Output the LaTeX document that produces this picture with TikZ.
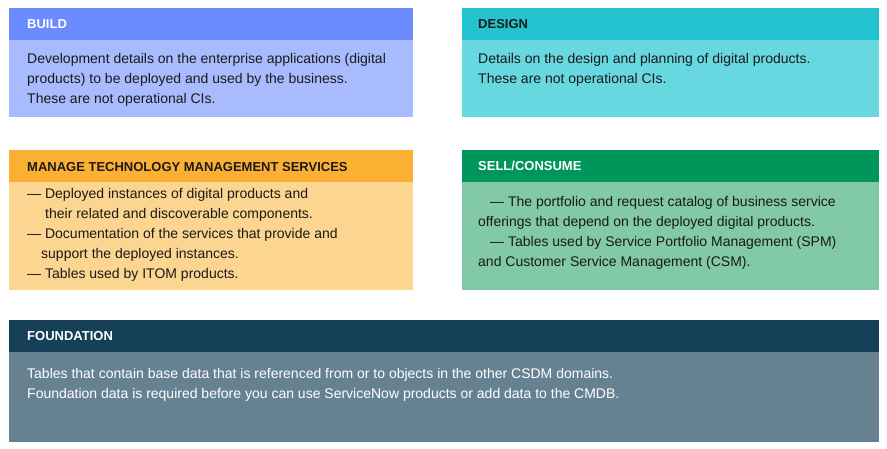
\documentclass[tikz,border=0pt]{standalone}
\usepackage{fontspec}
\setmainfont{Liberation Sans}
\usetikzlibrary{positioning}
\definecolor{buildhead}{HTML}{6B8BFF}
\definecolor{buildbody}{HTML}{A8BBFF}
\definecolor{designhead}{HTML}{23C4CF}
\definecolor{designbody}{HTML}{67D7E0}
\definecolor{managehead}{HTML}{FBB034}
\definecolor{managebody}{HTML}{FCD590}
\definecolor{sellhead}{HTML}{00955A}
\definecolor{sellbody}{HTML}{82C9A6}
\definecolor{foundhead}{HTML}{163F58}
\definecolor{foundbody}{HTML}{668290}
\definecolor{textdark}{HTML}{1A1A1A}
\tikzset{
  headtext/.style={anchor=west, font=\fontsize{13}{15}\selectfont\bfseries, inner sep=0pt},
  bodytext/.style={anchor=north west, align=left, inner sep=0pt,
    font=\fontsize{14}{20}\selectfont},
}
\begin{document}
\begin{tikzpicture}[x=1pt,y=-1pt]
    \useasboundingbox (0,0) rectangle (887,449);

    % build
    \fill[buildbody] (9,8) rectangle (413,117);
    \fill[buildhead] (9,8) rectangle (413,40);
    \node[headtext, text=white] (buildh) at (27,24) {BUILD};
    \node[bodytext, text=textdark] (buildb) at (27,53) {Development details on the enterprise applications (digital\\products) to be deployed and used by the business.\\These are not operational CIs.};

    % design
    \fill[designbody] (462,8) rectangle (879,117);
    \fill[designhead] (462,8) rectangle (879,40);
    \node[headtext, text=textdark] (designh) at (478,24) {DESIGN};
    \node[bodytext, text=textdark] (designb) at (478,53) {Details on the design and planning of digital products.\\These are not operational CIs.};

    % manage
    \fill[managebody] (9,150) rectangle (413,290);
    \fill[managehead] (9,150) rectangle (413,182);
    \node[headtext, text=textdark] (manageh) at (27,167) {MANAGE TECHNOLOGY MANAGEMENT SERVICES};
    \node[bodytext, text=textdark] (manageb) at (27,188) {--- Deployed instances of digital products and\\
      \hspace{18pt}their related and discoverable components.\\
      --- Documentation of the services that provide and\\
      \hspace{14pt}support the deployed instances.\\
      --- Tables used by ITOM products.};

    % sell/consume
    \fill[sellbody] (462,150) rectangle (879,290);
    \fill[sellhead] (462,150) rectangle (879,182);
    \node[headtext, text=white] (sellh) at (478,166) {SELL/CONSUME};
    \node[bodytext, text=textdark] (sellb) at (478,196) {\hspace{12pt}--- The portfolio and request catalog of business service\\
      offerings that depend on the deployed digital products.\\
      \hspace{12pt}--- Tables used by Service Portfolio Management (SPM)\\
      and Customer Service Management (CSM).};

    % foundation
    \fill[foundbody] (9,320) rectangle (879,442);
    \fill[foundhead] (9,320) rectangle (879,352);
    \node[headtext, text=white] (foundh) at (27,336) {FOUNDATION};
    \node[bodytext, text=white] (foundb) at (27,368) {Tables that contain base data that is referenced from or to objects in the other CSDM domains.\\Foundation data is required before you can use ServiceNow products or add data to the CMDB.};
\end{tikzpicture}
\end{document}
